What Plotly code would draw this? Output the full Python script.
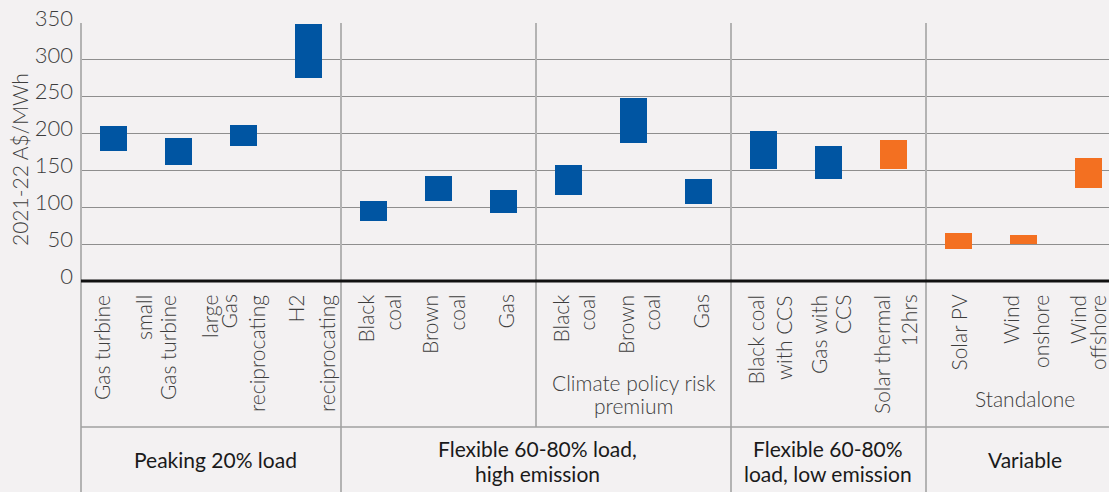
import plotly.graph_objects as go

# Levelised cost ranges by technology, 2021-22 A$/MWh
technologies = [
    "Gas turbine small", "Gas turbine large", "Gas reciprocating", "H2 reciprocating",
    "Black coal", "Brown coal", "Gas",
    "Black coal (climate policy risk premium)", "Brown coal (climate policy risk premium)",
    "Gas (climate policy risk premium)",
    "Black coal with CCS", "Gas with CCS", "Solar thermal 12hrs",
    "Solar PV", "Wind onshore", "Wind offshore",
]
tick_lines = [
    ["Gas turbine", "small"], ["Gas turbine", "large"], ["Gas", "reciprocating"], ["H2", "reciprocating"],
    ["Black", "coal"], ["Brown", "coal"], ["Gas"],
    ["Black", "coal"], ["Brown", "coal"], ["Gas"],
    ["Black coal", "with CCS"], ["Gas with", "CCS"], ["Solar thermal", "12hrs"],
    ["Solar PV"], ["Wind", "onshore"], ["Wind", "offshore"],
]
cost_low = [176, 158, 183, 275, 81, 108, 92, 116, 187, 104, 152, 138, 152, 43, 50, 126]
cost_high = [210, 194, 211, 348, 108, 142, 123, 158, 248, 138, 203, 183, 191, 65, 62, 167]
renewable = [False] * 12 + [True] * 4

# (label lines, first index, last index)
sub_groups = [(["Climate policy risk", "premium"], 7, 9), (["Standalone"], 13, 15)]
groups = [
    (["Peaking 20% load"], 0, 3),
    (["Flexible 60-80% load,", "high emission"], 4, 9),
    (["Flexible 60-80%", "load, low emission"], 10, 12),
    (["Variable"], 13, 15),
]
y_ticks = [0, 50, 100, 150, 200, 250, 300, 350]
y_title = "2021-22 A$/MWh"

# ---- layout geometry (pixels) ----
FIG_W, FIG_H = 1109, 492
L, T = 81, 23
PLOT_W = FIG_W - L
PLOT_H = 258
B = FIG_H - T - PLOT_H
CAT_PX = 65.0
X_RANGE = [-0.5, -0.5 + PLOT_W / CAT_PX]

BLUE = "#0055a2"
ORANGE = "#f37021"
BG = "#f3f1f2"
LIGHT_TEXT = "#3d3d3d"
FONT = "Lato"

# per-line horizontal nudges (px) of the rotated category labels
line_nudge = [
    [-12, 30], [-11, 31], [-16, 13], [-14, 18],
    [-9, 18], [-9, 17], [1],
    [-9, 17], [-8, 17], [1],
    [-9, 20], [-10, 14], [-12, 14],
    [-1], [-13, 17], [-11, 9],
]


def cat_px(v):
    return L + (v - X_RANGE[0]) * CAT_PX


def px_to_paper_x(px):
    return (px - L) / PLOT_W


def px_to_paper_y(py):
    return (T + PLOT_H - py) / PLOT_H


fig = go.Figure()
fig.add_trace(go.Bar(
    x=list(range(len(technologies))),
    y=[h - l for l, h in zip(cost_low, cost_high)],
    base=cost_low,
    width=0.415,
    marker=dict(color=[ORANGE if r else BLUE for r in renewable], line=dict(width=0)),
    hovertext=technologies,
    showlegend=False,
))

shapes = []
line_grey = "#b3b3b3"
# left frame line
shapes.append(dict(type="line", xref="paper", yref="paper", x0=0, x1=0,
                   y0=1, y1=px_to_paper_y(FIG_H), line=dict(color=line_grey, width=2)))
# separators between technology blocks
for boundary, bottom in [(3.5, FIG_H), (6.5, 427), (9.5, FIG_H), (12.5, FIG_H)]:
    xp = px_to_paper_x(cat_px(boundary))
    shapes.append(dict(type="line", xref="paper", yref="paper", x0=xp, x1=xp,
                       y0=1, y1=px_to_paper_y(bottom), line=dict(color=line_grey, width=2)))
# row divider under the technology labels
shapes.append(dict(type="line", xref="paper", yref="paper", x0=0, x1=1.01,
                   y0=px_to_paper_y(427), y1=px_to_paper_y(427), line=dict(color="#a0a0a0", width=1.5)))
# zero line
shapes.append(dict(type="line", xref="paper", yref="paper", x0=0, x1=1.01,
                   y0=0, y1=0, line=dict(color="#111111", width=3)))

annotations = []
# rotated technology labels
for i, lines in enumerate(tick_lines):
    for text, dx in zip(lines, line_nudge[i]):
        annotations.append(dict(
            text=text, textangle=-90, xref="paper", yref="paper",
            x=px_to_paper_x(cat_px(i) + dx), y=px_to_paper_y(293),
            xanchor="center", yanchor="top", showarrow=False,
            font=dict(family=FONT, size=21, color=LIGHT_TEXT, weight=300),
        ))

# sub-group captions
for lines, i0, i1 in sub_groups:
    xc = (cat_px(i0 - 0.5) + cat_px(i1 + 0.5)) / 2
    if i1 == len(technologies) - 1:
        xc = 1025
    y0 = 382 if len(lines) > 1 else 398
    for k, text in enumerate(lines):
        annotations.append(dict(
            text=text, xref="paper", yref="paper",
            x=px_to_paper_x(xc), y=px_to_paper_y(y0 + 23 * k),
            xanchor="center", yanchor="middle", showarrow=False,
            font=dict(family=FONT, size=21, color=LIGHT_TEXT, weight=300),
        ))

# group captions
group_x = [215, 537, 828, 1025]
for (lines, i0, i1), xc in zip(groups, group_x):
    ys = [459] if len(lines) == 1 else [448, 473]
    for text, yc in zip(lines, ys):
        annotations.append(dict(
            text=text, xref="paper", yref="paper",
            x=px_to_paper_x(xc), y=px_to_paper_y(yc),
            xanchor="center", yanchor="middle", showarrow=False,
            font=dict(family=FONT, size=21, color="#1a1a1a"),
        ))

# y-axis title
annotations.append(dict(
    text=y_title, textangle=-90, xref="paper", yref="paper",
    x=px_to_paper_x(19), y=px_to_paper_y(160),
    xanchor="center", yanchor="middle", showarrow=False,
    font=dict(family=FONT, size=21, color=LIGHT_TEXT, weight=300),
))

fig.update_layout(
    width=FIG_W, height=FIG_H,
    margin=dict(l=L, r=0, t=T, b=B, pad=0),
    paper_bgcolor=BG, plot_bgcolor=BG,
    bargap=0,
    shapes=shapes,
    annotations=annotations,
    xaxis=dict(range=X_RANGE, showticklabels=False, showgrid=False,
               zeroline=False, showline=False, ticks=""),
    yaxis=dict(range=[0, 350], tickvals=y_ticks, showgrid=True,
               gridcolor="#8e8e8e", gridwidth=1, zeroline=False, showline=False,
               ticks="", ticklabelstandoff=7, ticklabelshift=-5,
               tickfont=dict(family=FONT, size=22, color=LIGHT_TEXT, weight=300)),
)

fig.write_html("out.html")
